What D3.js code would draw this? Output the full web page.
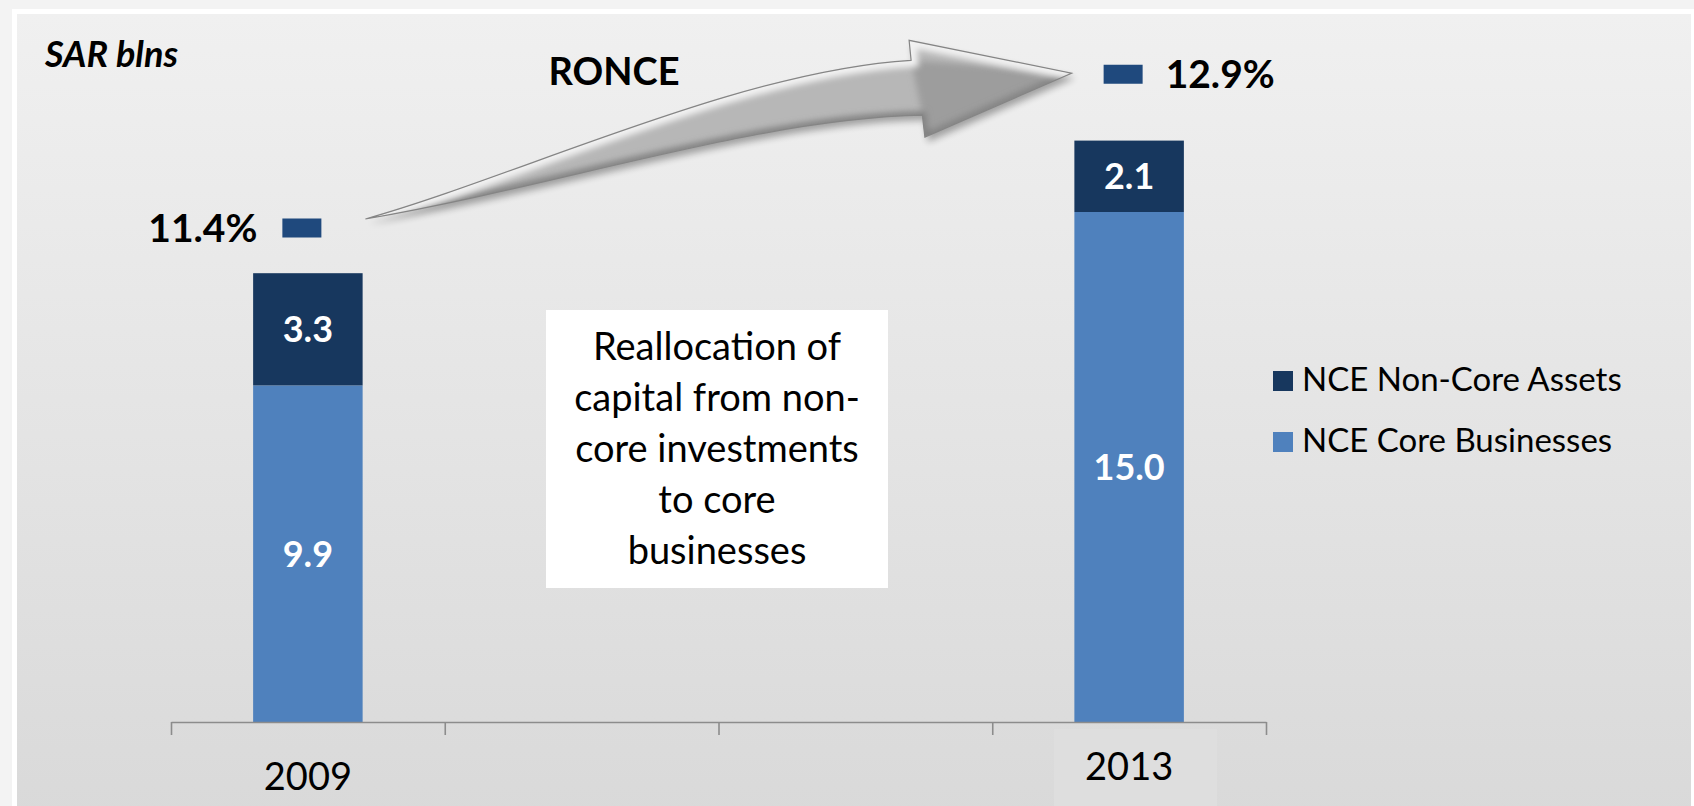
<!DOCTYPE html>
<html>
<head>
<meta charset="utf-8">
<script src="https://cdn.jsdelivr.net/npm/d3@7"></script>
<style>
  html, body { margin: 0; padding: 0; background: #f3f3f3; overflow: hidden; }
  svg { display: block; }
</style>
</head>
<body>
<svg id="chart" width="1694" height="806"></svg>
<script>
// ---- data ----
const tickLabels = ["2009", "", "", "2013"];
const coreBusinesses = [9.9, 0, 0, 15.0];   // NCE Core Businesses, SAR blns
const nonCoreAssets = [3.3, 0, 0, 2.1];     // NCE Non-Core Assets, SAR blns
const ronce = [11.4, null, null, 12.9];     // RONCE, %
const seriesNames = ["NCE Non-Core Assets", "NCE Core Businesses"];
const unitLabel = "SAR blns";
const ronceTitle = "RONCE";
const noteLines = ["Reallocation of", "capital from non-", "core investments", "to core", "businesses"];

// ---- setup ----
const W = 1694, H = 806;
const font = "Lato, 'Open Sans', 'DejaVu Sans', sans-serif";
const colors = { core: "#4f81bd", nonCore: "#17375e", ronce: "#1f497d" };

const svg = d3.select("#chart");
const defs = svg.append("defs");

const bgGrad = defs.append("linearGradient").attr("id", "panelGrad")
  .attr("x1", 0).attr("y1", 0).attr("x2", 0).attr("y2", 1);
bgGrad.append("stop").attr("offset", 0).attr("stop-color", "#f0f0f0");
bgGrad.append("stop").attr("offset", 1).attr("stop-color", "#d9d9d9");

// page frame
svg.append("rect").attr("x", 0).attr("y", 0).attr("width", W).attr("height", H).attr("fill", "#f3f3f3");
svg.append("rect").attr("x", 12).attr("y", 9).attr("width", W - 12).attr("height", H).attr("fill", "#ffffff");
svg.append("rect").attr("x", 17).attr("y", 14).attr("width", W - 20).attr("height", H).attr("fill", "url(#panelGrad)");

// ---- scales ----
const x = d3.scaleBand().domain(d3.range(tickLabels.length)).range([171, 1266]).paddingInner(0).paddingOuter(0);
const barW = x.bandwidth() * 0.4;
const y = d3.scaleLinear().domain([0, 18]).range([722, 110]);
const y2 = d3.scaleLinear().domain([11, 13]).range([269, 64]);

// ---- stacked bars ----
const rows = tickLabels.map((t, i) => ({ i, core: coreBusinesses[i], nonCore: nonCoreAssets[i] }));
const stacked = d3.stack().keys(["core", "nonCore"])(rows);

const barG = svg.append("g");
stacked.forEach(layer => {
  const fill = colors[layer.key];
  const segs = layer.filter(d => d[1] - d[0] > 0);
  barG.selectAll(null).data(segs).join("rect")
    .attr("x", d => x(d.data.i) + (x.bandwidth() - barW) / 2)
    .attr("y", d => y(d[1]))
    .attr("width", barW)
    .attr("height", d => y(d[0]) - y(d[1]))
    .attr("fill", fill);
  barG.selectAll(null).data(segs).join("text")
    .attr("x", d => x(d.data.i) + x.bandwidth() / 2)
    .attr("y", d => (y(d[0]) + y(d[1])) / 2)
    .attr("dy", "0.36em")
    .attr("text-anchor", "middle")
    .attr("font-family", font).attr("font-weight", 700).attr("font-size", 36)
    .attr("fill", "#ffffff")
    .text(d => (d[1] - d[0]).toFixed(1));
});

// ---- category axis ----
const n = tickLabels.length;
const xEdge = d3.scaleLinear().domain([0, n]).range(x.range());
const axisG = svg.append("g").attr("transform", "translate(0,722)");
axisG.call(d3.axisBottom(xEdge).tickValues(d3.range(n + 1)).tickFormat("").tickSize(13).tickSizeOuter(0));
axisG.selectAll("path, line").attr("stroke", "#8c8c8c").attr("stroke-width", 1.6);

// highlight box behind the last year label
svg.append("rect")
  .attr("x", x(3) + x.bandwidth() / 2 - 75).attr("y", 729)
  .attr("width", 163).attr("height", 80)
  .attr("fill", "#dedede");

const labelG = svg.append("g").attr("transform", "translate(0,722)");
labelG.call(d3.axisBottom(x).tickSize(0).tickFormat(i => tickLabels[i]));
labelG.select(".domain").remove();
labelG.selectAll("text")
  .attr("font-family", font).attr("font-size", 38).attr("fill", "#000")
  .attr("dy", 0)
  .attr("y", (d, i) => i === 3 ? 58 : 68);

// ---- RONCE markers ----
const ronceData = ronce.map((v, i) => ({ i, v })).filter(d => d.v != null);
const mW = 39, mH = 19;
const mx = d => x(d.i) + x.bandwidth() / 2 - 6;
svg.append("g").selectAll("rect").data(ronceData).join("rect")
  .attr("x", d => mx(d) - mW / 2)
  .attr("y", d => y2(d.v) - mH / 2)
  .attr("width", mW).attr("height", mH)
  .attr("fill", colors.ronce);
svg.append("g").selectAll("text").data(ronceData).join("text")
  .attr("x", (d, k) => k === 0 ? mx(d) - mW / 2 - 25 : mx(d) + mW / 2 + 23)
  .attr("y", d => y2(d.v))
  .attr("dy", "0.36em")
  .attr("text-anchor", (d, k) => k === 0 ? "end" : "start")
  .attr("font-family", font).attr("font-weight", 700).attr("font-size", 39)
  .attr("fill", "#000")
  .text(d => d.v.toFixed(1) + "%");

// ---- curved arrow between the two RONCE markers ----
const a = ronceData[0], b = ronceData[1];
const T = [mx(a) + mW / 2 + 44, y2(a.v) - 9];     // tail
const Hd = [mx(b) - mW / 2 - 32, y2(b.v) - 1];    // head tip
const dx = Hd[0] - T[0], dy = Hd[1] - T[1];
const P = (u, v) => [T[0] + u * dx, T[1] + v * dy];   // fractional frame
// shape in fractions of the tail-to-tip span
const U  = P(0.7727, 1.0889), B1 = P(0.7699, 1.2260), B2 = P(0.7923, 0.5616), L = P(0.7887, 0.7123);
const C1u = P(0.2197, 0.2997), C2u = P(0.5296, 1.0192);
const C1l = P(0.2789, 0.2329), C2l = P(0.5577, 0.6918);
const pt = p => p[0].toFixed(1) + "," + p[1].toFixed(1);
const arrowD = `M${pt(T)} C${pt(C1u)} ${pt(C2u)} ${pt(U)} L${pt(B1)} L${pt(Hd)} L${pt(B2)} L${pt(L)} C${pt(C2l)} ${pt(C1l)} ${pt(T)} Z`;
const upperD = `M${pt(T)} C${pt(C1u)} ${pt(C2u)} ${pt(U)} L${pt(B1)} L${pt(Hd)}`;
const lowerD = `M${pt(T)} C${pt(C1l)} ${pt(C2l)} ${pt(L)} L${pt(B2)} L${pt(Hd)}`;

defs.append("filter").attr("id", "shadowBlur").attr("x", "-10%").attr("y", "-30%").attr("width", "120%").attr("height", "160%")
  .append("feGaussianBlur").attr("stdDeviation", 3.5);
defs.append("filter").attr("id", "softBlur").attr("x", "-10%").attr("y", "-30%").attr("width", "120%").attr("height", "160%")
  .append("feGaussianBlur").attr("stdDeviation", 3);
defs.append("clipPath").attr("id", "arrowClip").append("path").attr("d", arrowD);

const arrowG = svg.append("g");
arrowG.append("path").attr("d", arrowD).attr("transform", "translate(3,5)")
  .attr("fill", "#000").attr("opacity", 0.32).attr("filter", "url(#shadowBlur)");
arrowG.append("path").attr("d", arrowD).attr("fill", "#b7b7b7");
const shade = arrowG.append("g").attr("clip-path", "url(#arrowClip)");
shade.append("path").attr("d", `M${pt(U)} L${pt(Hd)} L${pt(B2)} L${pt(L)} Z`)
  .attr("fill", "#9d9d9d").attr("filter", "url(#softBlur)");
shade.append("path").attr("d", lowerD).attr("fill", "none")
  .attr("stroke", "#808080").attr("stroke-width", 8).attr("filter", "url(#softBlur)");
shade.append("path").attr("d", upperD).attr("fill", "none")
  .attr("stroke", "#f2f2f2").attr("stroke-width", 14).attr("filter", "url(#softBlur)");
arrowG.append("path").attr("d", arrowD).attr("fill", "none")
  .attr("stroke", "#858585").attr("stroke-width", 1.2);

// ---- titles ----
svg.append("text").attr("x", 45).attr("y", 67)
  .attr("font-family", font).attr("font-weight", 700).attr("font-style", "italic").attr("font-size", 36)
  .attr("fill", "#000").text(unitLabel);
svg.append("text").attr("x", 614).attr("y", 85).attr("text-anchor", "middle")
  .attr("font-family", font).attr("font-weight", 700).attr("font-size", 38)
  .attr("fill", "#000").text(ronceTitle);

// ---- note box ----
const note = svg.append("g");
note.append("rect").attr("x", 546).attr("y", 310).attr("width", 342).attr("height", 278).attr("fill", "#ffffff");
note.selectAll("text").data(noteLines).join("text")
  .attr("x", 717).attr("y", (d, i) => 360 + i * 51)
  .attr("text-anchor", "middle")
  .attr("font-family", font).attr("font-size", 38).attr("fill", "#000")
  .text(d => d);

// ---- legend ----
const legendColors = [colors.nonCore, colors.core];
const leg = svg.append("g").selectAll("g").data(seriesNames).join("g")
  .attr("transform", (d, i) => `translate(1273,${371 + i * 61})`);
leg.append("rect").attr("width", 20).attr("height", 20).attr("fill", (d, i) => legendColors[i]);
leg.append("text").attr("x", 29).attr("y", 20)
  .attr("font-family", font).attr("font-size", 33).attr("fill", "#000")
  .text(d => d);
</script>
</body>
</html>
